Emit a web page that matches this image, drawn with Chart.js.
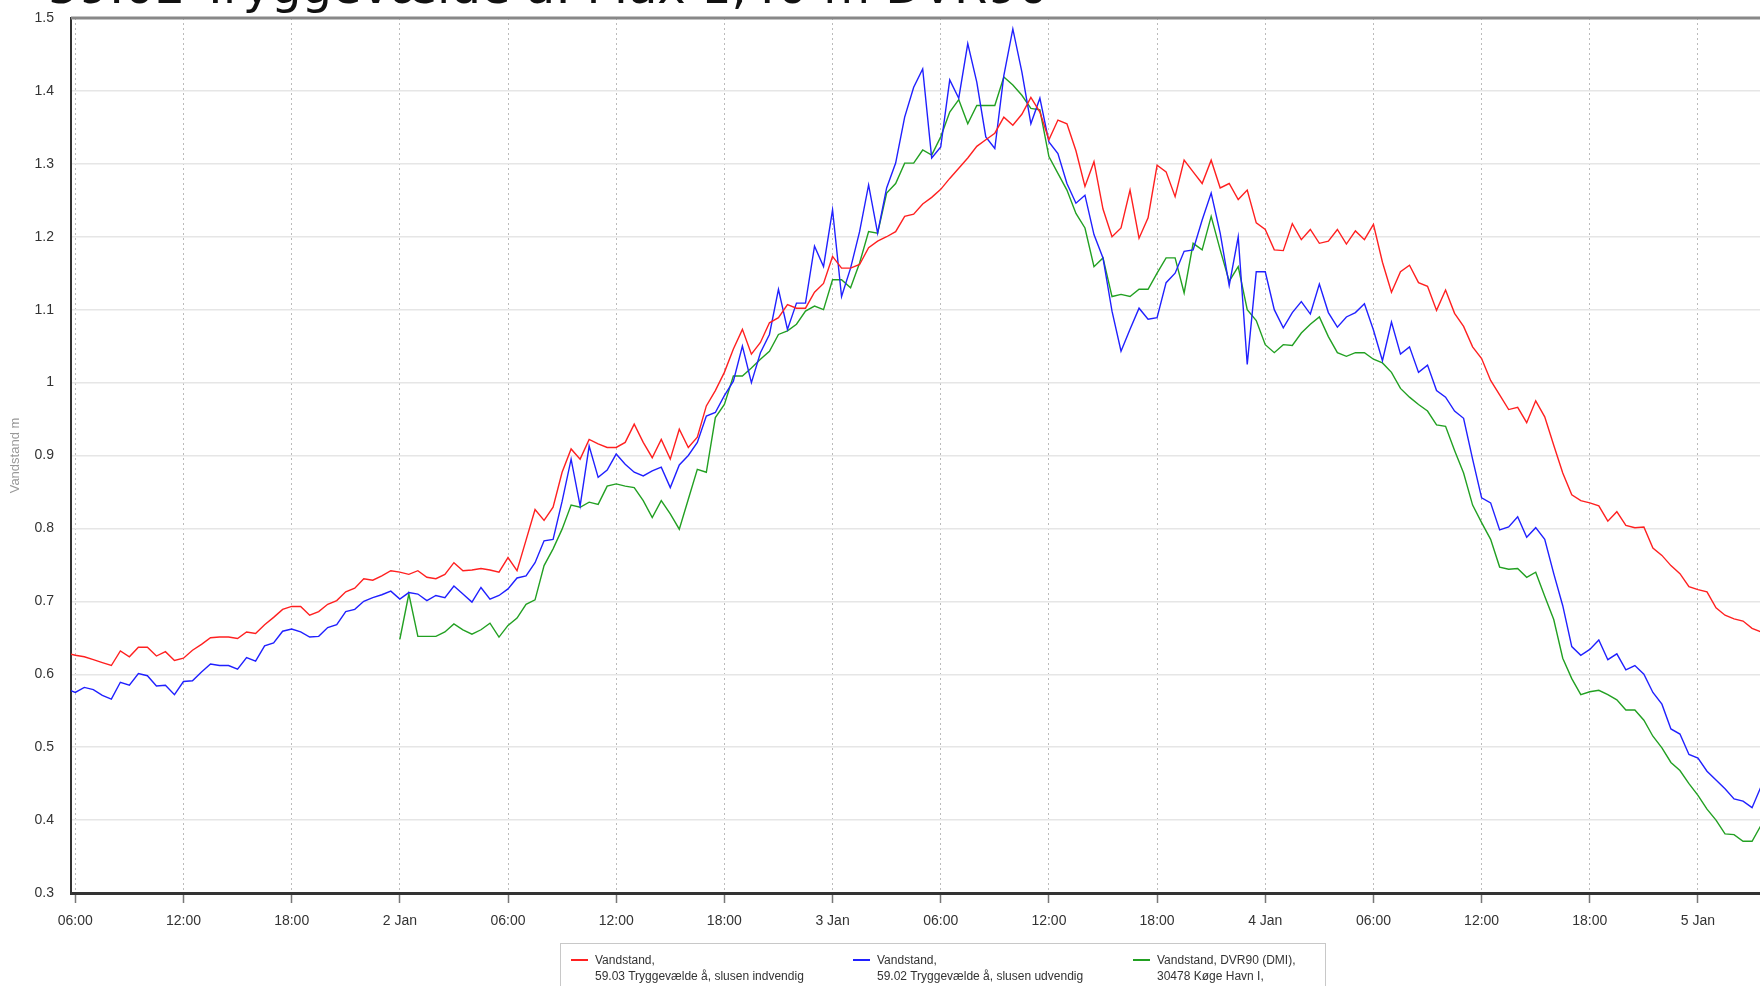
<!DOCTYPE html>
<html>
<head>
<meta charset="utf-8">
<script src="https://cdn.jsdelivr.net/npm/chart.js@4.4.1/dist/chart.umd.min.js"></script>
<style>
  html, body { margin: 0; padding: 0; background: #fff; overflow: hidden; }
  #wrap { position: absolute; left: 0; top: 0; width: 1760px; height: 986px; }
  #legend { position: absolute; left: 560px; top: 943px; width: 764px; height: 60px;
            border: 1px solid #c8c8c8; font-family: "Liberation Sans", Arial, sans-serif;
            font-size: 12px; color: #333; }
  .item { position: absolute; top: 8px; line-height: 16px; padding-left: 24px; white-space: nowrap; }
  .item i { position: absolute; left: 0; top: 7px; width: 17px; height: 2px; }
</style>
</head>
<body>
<div id="wrap"><canvas id="chart" width="1760" height="986"></canvas></div>
<div id="legend">
  <div class="item" style="left:10px"><i style="background:#ff2020"></i>Vandstand,<br>59.03 Tryggevælde å, slusen indvendig</div>
  <div class="item" style="left:292px"><i style="background:#2020ff"></i>Vandstand,<br>59.02 Tryggevælde å, slusen udvendig</div>
  <div class="item" style="left:572px"><i style="background:#22a022"></i>Vandstand, DVR90 (DMI),<br>30478 Køge Havn I,</div>
</div>
<script>
var titleText = "59.02 Tryggevælde å: Max 1,40 m DVR90";

// samples every 30 min, first one at 1 Jan 05:30 (hours counted from 1 Jan 00:00)
var startHour = 5.5;
var stepHours = 0.5;

// 59.03 slusen indvendig
var red = [
  0.629,
  0.626, 0.624, 0.620, 0.616, 0.612, 0.632, 0.624, 0.637, 0.637, 0.625, 0.631, 0.619,
  0.622, 0.633, 0.641, 0.650, 0.651, 0.651, 0.649, 0.658, 0.656, 0.668, 0.678, 0.689,
  0.693, 0.693, 0.681, 0.686, 0.696, 0.701, 0.713, 0.718, 0.731, 0.729, 0.735, 0.742,
  0.740, 0.737, 0.742, 0.733, 0.731, 0.737, 0.753, 0.742, 0.743, 0.745, 0.743, 0.740,
  0.760, 0.742, 0.784, 0.826, 0.811, 0.829, 0.877, 0.909, 0.895, 0.922, 0.916, 0.911,
  0.911, 0.918, 0.943, 0.918, 0.897, 0.922, 0.895, 0.936, 0.911, 0.925, 0.968, 0.989,
  1.014, 1.046, 1.073, 1.039, 1.055, 1.082, 1.089, 1.107, 1.102, 1.102, 1.124, 1.136,
  1.173, 1.157, 1.157, 1.162, 1.185, 1.194, 1.200, 1.207, 1.228, 1.231, 1.245, 1.254,
  1.265, 1.280, 1.294, 1.308, 1.324, 1.333, 1.342, 1.364, 1.353, 1.368, 1.391, 1.371,
  1.333, 1.360, 1.355, 1.318, 1.269, 1.303, 1.238, 1.200, 1.212, 1.264, 1.198, 1.226,
  1.298, 1.289, 1.255, 1.305, 1.289, 1.273, 1.305, 1.267, 1.273, 1.251, 1.264, 1.219,
  1.210, 1.182, 1.181, 1.218, 1.196, 1.210, 1.191, 1.194, 1.210, 1.190, 1.208, 1.196,
  1.217, 1.165, 1.124, 1.152, 1.161, 1.137, 1.132, 1.099, 1.127, 1.095, 1.077, 1.049,
  1.033, 1.003, 0.983, 0.963, 0.966, 0.945, 0.975, 0.953, 0.914, 0.876, 0.846, 0.838,
  0.835, 0.831, 0.810, 0.823, 0.804, 0.801, 0.802, 0.773, 0.763, 0.749, 0.738, 0.720,
  0.716, 0.713, 0.691, 0.681, 0.676, 0.673, 0.663, 0.658
];

// 59.02 slusen udvendig
var blue = [
  0.580,
  0.575, 0.582, 0.579, 0.571, 0.566, 0.589, 0.585, 0.601, 0.598, 0.584, 0.585, 0.572,
  0.590, 0.591, 0.603, 0.614, 0.612, 0.612, 0.607, 0.623, 0.618, 0.639, 0.643, 0.659,
  0.662, 0.658, 0.651, 0.652, 0.664, 0.668, 0.686, 0.689, 0.700, 0.705, 0.709, 0.714,
  0.703, 0.712, 0.710, 0.701, 0.708, 0.705, 0.721, 0.710, 0.699, 0.719, 0.703, 0.708,
  0.717, 0.732, 0.735, 0.753, 0.783, 0.785, 0.837, 0.895, 0.831, 0.913, 0.870, 0.880,
  0.902, 0.888, 0.877, 0.872, 0.879, 0.884, 0.856, 0.887, 0.900, 0.918, 0.954, 0.959,
  0.982, 1.002, 1.050, 1.000, 1.041, 1.066, 1.128, 1.073, 1.109, 1.109, 1.187, 1.159,
  1.237, 1.118, 1.157, 1.207, 1.271, 1.205, 1.267, 1.301, 1.364, 1.405, 1.430, 1.308,
  1.323, 1.415, 1.390, 1.465, 1.412, 1.337, 1.321, 1.421, 1.485, 1.426, 1.355, 1.390,
  1.330, 1.314, 1.273, 1.246, 1.257, 1.203, 1.171, 1.098, 1.043, 1.073, 1.102, 1.087,
  1.089, 1.137, 1.150, 1.180, 1.182, 1.223, 1.260, 1.205, 1.133, 1.200, 1.025, 1.152,
  1.152, 1.100, 1.075, 1.096, 1.111, 1.094, 1.135, 1.096, 1.076, 1.090, 1.096, 1.108,
  1.072, 1.030, 1.083, 1.039, 1.049, 1.014, 1.024, 0.989, 0.980, 0.961, 0.951, 0.895,
  0.842, 0.835, 0.798, 0.802, 0.816, 0.788, 0.801, 0.785, 0.738, 0.694, 0.638, 0.626,
  0.634, 0.647, 0.620, 0.628, 0.606, 0.612, 0.600, 0.575, 0.559, 0.525, 0.518, 0.490,
  0.485, 0.467, 0.455, 0.443, 0.429, 0.426, 0.417, 0.446
];

// DVR90 Køge Havn (no data before 2 Jan)
var green = [
  null,
  null, null, null, null, null, null, null, null, null, null, null, null,
  null, null, null, null, null, null, null, null, null, null, null, null,
  null, null, null, null, null, null, null, null, null, null, null, null,
  0.648, 0.710, 0.652, 0.652, 0.652, 0.658, 0.669, 0.661, 0.655, 0.661, 0.670, 0.651,
  0.667, 0.677, 0.696, 0.702, 0.749, 0.772, 0.799, 0.832, 0.829, 0.836, 0.833, 0.858,
  0.861, 0.858, 0.856, 0.838, 0.815, 0.838, 0.820, 0.799, 0.840, 0.881, 0.877, 0.952,
  0.970, 1.009, 1.009, 1.020, 1.032, 1.043, 1.066, 1.071, 1.080, 1.098, 1.105, 1.100,
  1.141, 1.141, 1.130, 1.164, 1.207, 1.205, 1.260, 1.273, 1.301, 1.301, 1.319, 1.312,
  1.337, 1.371, 1.388, 1.355, 1.380, 1.380, 1.380, 1.419, 1.408, 1.394, 1.376, 1.374,
  1.310, 1.287, 1.264, 1.232, 1.212, 1.159, 1.171, 1.118, 1.121, 1.118, 1.128, 1.128,
  1.150, 1.171, 1.171, 1.123, 1.191, 1.182, 1.228, 1.182, 1.139, 1.159, 1.100, 1.085,
  1.052, 1.041, 1.052, 1.051, 1.068, 1.080, 1.090, 1.063, 1.041, 1.036, 1.041, 1.041,
  1.032, 1.027, 1.014, 0.992, 0.980, 0.970, 0.961, 0.942, 0.940, 0.907, 0.876, 0.832,
  0.808, 0.785, 0.747, 0.744, 0.745, 0.733, 0.740, 0.707, 0.675, 0.622, 0.594, 0.572,
  0.576, 0.578, 0.572, 0.565, 0.551, 0.551, 0.537, 0.515, 0.499, 0.479, 0.468, 0.450,
  0.434, 0.415, 0.400, 0.381, 0.380, 0.371, 0.371, 0.393
];

var xTickHours = [6, 12, 18, 24, 30, 36, 42, 48, 54, 60, 66, 72, 78, 84, 90, 96];
var xTickLabels = ["06:00", "12:00", "18:00", "2 Jan", "06:00", "12:00", "18:00", "3 Jan",
                   "06:00", "12:00", "18:00", "4 Jan", "06:00", "12:00", "18:00", "5 Jan"];
var yTickValues = [0.3, 0.4, 0.5, 0.6, 0.7, 0.8, 0.9, 1.0, 1.1, 1.2, 1.3, 1.4, 1.5];
var yTickLabels = ["0.3", "0.4", "0.5", "0.6", "0.7", "0.8", "0.9", "1", "1.1", "1.2", "1.3", "1.4", "1.5"];

var hours = red.map(function (_, i) { return startHour + i * stepHours; });
function points(values) {
    return values.map(function (v, i) { return { x: hours[i], y: v }; });
}

// top frame line + the (cropped) title
var frameAndTitle = {
    id: "frameAndTitle",
    afterDraw: function (chart) {
        var ctx = chart.ctx, a = chart.chartArea;
        ctx.save();
        ctx.strokeStyle = "#888";
        ctx.lineWidth = 3;
        ctx.beginPath();
        ctx.moveTo(a.left, a.top);
        ctx.lineTo(a.right, a.top);
        ctx.stroke();
        ctx.fillStyle = "#111";
        ctx.font = '48px "DejaVu Sans"';
        ctx.textBaseline = "alphabetic";
        ctx.fillText(titleText, 48, 3);
        ctx.restore();
    }
};

var ctx = document.getElementById("chart").getContext("2d");
var chart = new Chart(ctx, {
    type: "line",
    data: {
        datasets: [{
            label: "59.03 Tryggevælde å, slusen indvendig",
            data: points(red),
            borderColor: "#ff2020",
            borderWidth: 1.4
        }, {
            label: "59.02 Tryggevælde å, slusen udvendig",
            data: points(blue),
            borderColor: "#2020ff",
            borderWidth: 1.4
        }, {
            label: "30478 Køge Havn I",
            data: points(green),
            borderColor: "#22a022",
            borderWidth: 1.4
        }]
    },
    options: {
        responsive: false,
        animation: false,
        events: [],
        layout: { padding: { top: 18, right: 0, left: 0, bottom: 0 } },
        elements: { point: { radius: 0 }, line: { tension: 0 } },
        plugins: { legend: { display: false }, tooltip: { enabled: false } },
        scales: {
            x: {
                type: "linear",
                min: 5.762,
                max: 99.44,
                afterFit: function (s) { s.height = 93; },
                afterBuildTicks: function (s) {
                    s.ticks = xTickHours.map(function (h) { return { value: h }; });
                },
                ticks: {
                    autoSkip: false,
                    maxRotation: 0,
                    padding: 10,
                    color: "#333",
                    font: { family: "Liberation Sans", size: 14 },
                    callback: function (v, i) { return xTickLabels[i]; }
                },
                grid: { color: "#bbb", lineWidth: 1, tickColor: "#777", tickLength: 10, tickWidth: 1.5 },
                border: { color: "#333", width: 3, dash: [2, 3] }
            },
            y: {
                min: 0.3,
                max: 1.5,
                afterFit: function (s) {
                    s.width = 71;
                    s.paddingTop = 0;
                    s.paddingBottom = 0;
                },
                afterBuildTicks: function (s) {
                    s.ticks = yTickValues.map(function (v) { return { value: v }; });
                },
                ticks: {
                    padding: 17,
                    color: "#333",
                    font: { family: "Liberation Sans", size: 14 },
                    callback: function (v, i) { return yTickLabels[i]; }
                },
                grid: { color: "#e6e6e6", lineWidth: 1.5, drawTicks: false },
                border: { color: "#333", width: 2 },
                title: {
                    display: true,
                    text: "Vandstand m",
                    color: "#999",
                    font: { family: "Liberation Sans", size: 13 },
                    padding: { top: 8, bottom: 0 }
                }
            }
        }
    },
    plugins: [frameAndTitle]
});
</script>
</body>
</html>
